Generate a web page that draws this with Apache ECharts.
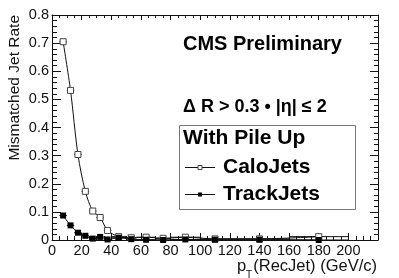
<!DOCTYPE html>
<html>
<head>
<meta charset="utf-8">
<script src="https://cdn.jsdelivr.net/npm/echarts@6/dist/echarts.min.js"></script>
<style>
html,body{margin:0;padding:0;background:#fff;}
#c{width:399px;height:278px;}
</style>
</head>
<body>
<div id="c"></div>
<script>
// ---- data ----
var binCenters = [7.5, 12.5, 17.5, 22.5, 27.5, 32.5, 37.5, 45, 53.5, 63.5, 75, 90, 110, 140, 180];
var binHalfWidths = [2.5, 2.5, 2.5, 2.5, 2.5, 2.5, 2.5, 5, 3.5, 6.5, 5, 10, 10, 20, 20];
var caloJets = [0.705, 0.532, 0.304, 0.173, 0.103, 0.080, 0.034, 0.012, 0.008, 0.010, 0.006, 0.010, 0.004, 0.004, 0.012];
var trackJets = [0.087, 0.052, 0.026, 0.015, 0.005, 0.011, 0.002, 0.008, 0.003, 0.001, 0.0, 0.002, 0.001, 0.001, 0.0];
var xTicks = [0, 20, 40, 60, 80, 100, 120, 140, 160, 180, 200];
var yTicks = [0, 0.1, 0.2, 0.3, 0.4, 0.5, 0.6, 0.7, 0.8];
var seriesNames = ['CaloJets', 'TrackJets'];

var FONT = '"Liberation Sans", Arial, Helvetica, sans-serif';
var INK = '#111';

function pairs(xs, ys) { return xs.map(function (x, i) { return [x, ys[i]]; }); }
function errData(xs, ys, es) { return xs.map(function (x, i) { return [x, ys[i], es[i]]; }); }

function errRender(params, api) {
  var x = api.value(0), y = api.value(1), e = api.value(2);
  var a = api.coord([x - e, y]);
  var b = api.coord([x + e, y]);
  return {
    type: 'line',
    shape: { x1: a[0], y1: a[1], x2: b[0], y2: b[1] },
    style: { stroke: INK, lineWidth: 1 }
  };
}

var chart = echarts.init(document.getElementById('c'), null, { renderer: 'canvas' });

var xCommon = {
  type: 'value', min: 0, max: 220, interval: 20,
  axisLine: { show: true, onZero: false, lineStyle: { color: INK, width: 1 } },
  splitLine: { show: false }
};
var yCommon = {
  type: 'value', min: 0, max: 0.8, interval: 0.1,
  axisLine: { show: true, onZero: false, lineStyle: { color: INK, width: 1 } },
  splitLine: { show: false }
};

var option = {
  backgroundColor: '#fff',
  animation: false,
  textStyle: { fontFamily: FONT },
  grid: { left: 52, right: 21, top: 15, bottom: 38 },
  xAxis: [
    Object.assign({}, xCommon, {
      position: 'bottom',
      axisTick: { show: true, inside: true, length: 7, lineStyle: { color: INK } },
      minorTick: { show: true, splitNumber: 4, length: 4, lineStyle: { color: INK } },
      axisLabel: {
        show: true, margin: 3, fontSize: 14.5, color: INK, fontFamily: FONT,
        showMaxLabel: false,
        formatter: function (v) { return xTicks.indexOf(v) >= 0 ? String(v) : ''; }
      }
    }),
    Object.assign({}, xCommon, {
      position: 'top',
      axisTick: { show: true, inside: true, length: 5, lineStyle: { color: INK } },
      minorTick: { show: true, splitNumber: 4, length: 3, lineStyle: { color: INK } },
      axisLabel: { show: false }
    })
  ],
  yAxis: [
    Object.assign({}, yCommon, {
      position: 'left',
      axisTick: { show: true, inside: true, length: 9, lineStyle: { color: INK } },
      minorTick: { show: true, splitNumber: 5, length: 5, lineStyle: { color: INK } },
      axisLabel: {
        show: true, margin: 3, fontSize: 14.5, color: INK, fontFamily: FONT,
        formatter: function (v) {
          for (var i = 0; i < yTicks.length; i++) {
            if (Math.abs(yTicks[i] - v) < 1e-6) return v === 0 ? '0' : yTicks[i].toFixed(1);
          }
          return '';
        }
      }
    }),
    Object.assign({}, yCommon, {
      position: 'right',
      axisTick: { show: true, inside: true, length: 8, lineStyle: { color: INK } },
      minorTick: { show: true, splitNumber: 5, length: 4, lineStyle: { color: INK } },
      axisLabel: { show: false }
    })
  ],
  series: [
    {
      name: seriesNames[0], type: 'line', xAxisIndex: 0, yAxisIndex: 0,
      data: pairs(binCenters, caloJets),
      smooth: 0.3,
      symbol: 'rect', symbolSize: 6,
      lineStyle: { color: INK, width: 1 },
      itemStyle: { color: '#fff', borderColor: '#444', borderWidth: 1 },
      z: 3
    },
    {
      name: seriesNames[1], type: 'line', xAxisIndex: 0, yAxisIndex: 0,
      data: pairs(binCenters, trackJets),
      smooth: 0.3,
      symbol: 'rect', symbolSize: 6,
      lineStyle: { color: INK, width: 1 },
      itemStyle: { color: '#000', borderColor: '#000', borderWidth: 0 },
      z: 4
    },
    {
      type: 'custom', xAxisIndex: 0, yAxisIndex: 0,
      data: errData(binCenters, caloJets, binHalfWidths),
      renderItem: errRender, z: 2, silent: true
    },
    {
      type: 'custom', xAxisIndex: 0, yAxisIndex: 0,
      data: errData(binCenters, trackJets, binHalfWidths),
      renderItem: errRender, z: 2, silent: true
    }
  ],
  graphic: [
    // y axis title
    { type: 'text', x: 15, y: 15, rotation: Math.PI / 2,
      style: { text: 'Mismatched Jet Rate', font: '15.5px ' + FONT, fill: INK, align: 'right', verticalAlign: 'middle' } },
    // x axis title
    { type: 'text', x: 377, y: 266,
      style: { text: '(RecJet) (GeV/c)', font: '16.5px ' + FONT, fill: INK, align: 'right', verticalAlign: 'middle' } },
    { type: 'text', x: 237, y: 266,
      style: { text: 'p', font: '16.5px ' + FONT, fill: INK, align: 'left', verticalAlign: 'middle' } },
    { type: 'text', x: 246, y: 275,
      style: { text: 'T', font: '10px ' + FONT, fill: INK, align: 'left', verticalAlign: 'middle' } },
    // annotations
    { type: 'text', x: 183, y: 44,
      style: { text: 'CMS Preliminary', font: 'bold 20px ' + FONT, fill: '#000', align: 'left', verticalAlign: 'middle' } },
    { type: 'text', x: 183, y: 107,
      style: { text: 'Δ R > 0.3 • |η| ≤ 2', font: 'bold 18px ' + FONT, fill: '#000', align: 'left', verticalAlign: 'middle' } },
    // legend box
    { type: 'rect', shape: { x: 179.5, y: 125.5, width: 176, height: 84 },
      style: { fill: '#fff', stroke: '#777', lineWidth: 1 }, z: 10 },
    { type: 'text', x: 183, y: 138, z: 11,
      style: { text: 'With Pile Up', font: 'bold 21px ' + FONT, fill: '#000', align: 'left', verticalAlign: 'middle' } },
    { type: 'line', shape: { x1: 185, y1: 167.5, x2: 215, y2: 167.5 }, style: { stroke: INK, lineWidth: 1 }, z: 11 },
    { type: 'rect', shape: { x: 198, y: 165.5, width: 4, height: 4 }, style: { fill: '#fff', stroke: '#444', lineWidth: 1 }, z: 12 },
    { type: 'text', x: 223, y: 167, z: 11,
      style: { text: seriesNames[0], font: 'bold 21px ' + FONT, fill: '#000', align: 'left', verticalAlign: 'middle' } },
    { type: 'line', shape: { x1: 185, y1: 194.5, x2: 215, y2: 194.5 }, style: { stroke: INK, lineWidth: 1 }, z: 11 },
    { type: 'rect', shape: { x: 198, y: 192.5, width: 4, height: 4 }, style: { fill: '#000' }, z: 12 },
    { type: 'text', x: 223, y: 194, z: 11,
      style: { text: seriesNames[1], font: 'bold 21px ' + FONT, fill: '#000', align: 'left', verticalAlign: 'middle' } }
  ]
};
chart.setOption(option);
</script>
</body>
</html>
